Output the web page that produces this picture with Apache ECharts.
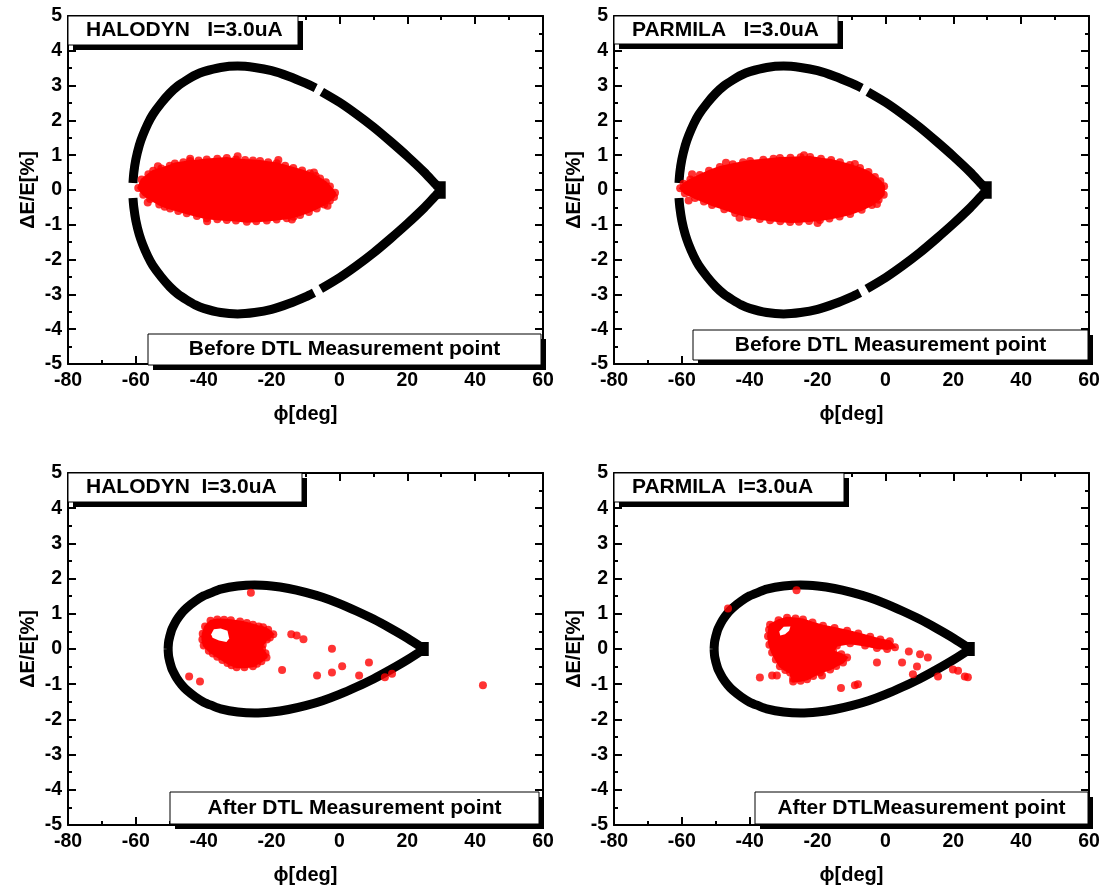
<!DOCTYPE html>
<html>
<head>
<meta charset="utf-8">
<script src="https://cdn.jsdelivr.net/npm/echarts@6/dist/echarts.min.js"></script>
<style>
  html, body { margin: 0; padding: 0; background: #fff; }
  #chart { width: 1112px; height: 891px; }
</style>
</head>
<body>
<div id="chart"></div>
<script>
// ---- axis ticks ----
const phiTicks = [-80, -60, -40, -20, 0, 20, 40, 60];
const deTicks = [-5, -4, -3, -2, -1, 0, 1, 2, 3, 4, 5];

// ---- panel texts ----
const panelTitles = ['HALODYN   I=3.0uA', 'PARMILA   I=3.0uA', 'HALODYN  I=3.0uA', 'PARMILA  I=3.0uA'];
const panelNotes = ['Before DTL Measurement point', 'Before DTL Measurement point',
                    'After DTL Measurement point', 'After DTLMeasurement point'];

// ---- separatrix before the DTL (phi [deg], dE/E [%]) ----
const beforeUpperLeft = [[-60.85,0.2],[-60.6,0.5],[-60,0.88],[-59,1.28],[-58,1.56],[-56.5,1.9],[-55,2.17],
  [-52.5,2.5],[-50,2.78],[-47.5,3.0],[-45,3.16],[-42.5,3.3],[-40,3.4],[-35,3.52],[-30,3.56],[-25,3.52],
  [-20,3.43],[-15,3.27],[-10,3.07],[-7,2.93]];
const beforeUpperRight = [[-5.2,2.82],[0,2.52],[5,2.18],[10,1.81],[15,1.4],[20,0.97],[25,0.51],[28,0.2],[30,0]];
const beforeLowerLeft = [[-60.85,-0.23],[-60.6,-0.5],[-60,-0.88],[-59,-1.28],[-58,-1.56],[-56.5,-1.9],[-55,-2.17],
  [-52.5,-2.5],[-50,-2.78],[-47.5,-3.0],[-45,-3.16],[-42.5,-3.3],[-40,-3.4],[-35,-3.52],[-30,-3.56],[-25,-3.52],
  [-20,-3.43],[-15,-3.27],[-10,-3.07],[-7.5,-2.95]];
const beforeLowerRight = [[-5.5,-2.84],[0,-2.52],[5,-2.18],[10,-1.81],[15,-1.4],[20,-0.97],[25,-0.51],[28,-0.2],[30,0]];
const beforeTip = [[30,-0.25],[30,0.25]];

// ---- separatrix after the DTL ----
const afterUpper = [[-50.5,0],[-50.3,0.23],[-49.5,0.53],[-49,0.64],[-48,0.82],[-46.5,1.02],[-45,1.17],[-42.5,1.36],
  [-40,1.51],[-37.5,1.61],[-35,1.7],[-30,1.79],[-25,1.82],[-20,1.79],[-15,1.72],[-10,1.61],[-5,1.47],[0,1.29],
  [5,1.08],[10,0.85],[15,0.59],[20,0.31],[25,0]];
const afterLower = [[-50.5,0],[-50.3,-0.23],[-49.5,-0.53],[-49,-0.64],[-48,-0.82],[-46.5,-1.02],[-45,-1.17],[-42.5,-1.36],
  [-40,-1.51],[-37.5,-1.61],[-35,-1.7],[-30,-1.79],[-25,-1.82],[-20,-1.79],[-15,-1.72],[-10,-1.61],[-5,-1.47],[0,-1.29],
  [5,-1.08],[10,-0.85],[15,-0.59],[20,-0.31],[25,0]];
const afterTip = [[25,-0.2],[25,0.2]];

// ---- beam particles: outline of the dense core, holes and isolated particles ----
const halodynBeforeCore = [[-59.3,0.06],[-58.3,0.3],[-56.3,0.45],[-54.9,0.55],[-52.5,0.62],[-50,0.7],[-48.5,0.76],
  [-46,0.8],[-44,0.83],[-41.5,0.85],[-39.1,0.88],[-36,0.9],[-33.2,0.92],[-30.5,0.88],[-27.8,0.86],[-25.5,0.85],
  [-23.4,0.83],[-21,0.8],[-18.5,0.77],[-16,0.7],[-13.6,0.63],[-11,0.56],[-8.7,0.48],[-7,0.4],[-5.7,0.33],[-4,0.22],
  [-2.8,0.1],[-1.3,-0.08],[-1.6,-0.2],[-2.8,-0.3],[-4.5,-0.42],[-6.7,-0.53],[-9,-0.63],[-11.6,-0.72],[-13.5,-0.77],
  [-15.5,-0.81],[-18.5,-0.85],[-21.4,-0.88],[-24.5,-0.9],[-27.3,-0.91],[-30.5,-0.88],[-33.2,-0.86],[-36,-0.84],
  [-39.1,-0.81],[-42,-0.75],[-45,-0.67],[-47.5,-0.6],[-49.9,-0.53],[-51.5,-0.48],[-53.1,-0.42],[-55.8,-0.26],[-57.8,-0.14]];
const halodynBeforeDots = [[-53.5,0.68],[-44,0.9],[-30,0.97],[-18,0.86],[-7.5,0.5],[-56.5,-0.36],[-39,-0.9],[-14,-0.85],[-3.5,-0.45]];
const parmilaBeforeCore = [[-60.5,0.05],[-59.5,0.18],[-57.5,0.3],[-54.7,0.43],[-52,0.55],[-48.8,0.66],[-45,0.74],
  [-42,0.8],[-39.9,0.83],[-36,0.87],[-33,0.9],[-31.1,0.92],[-28,0.93],[-25,0.94],[-22.2,0.95],[-19,0.9],[-16,0.86],
  [-13.4,0.8],[-10.5,0.72],[-7.5,0.63],[-5,0.52],[-3.1,0.37],[-1.5,0.25],[-0.4,0.11],[-0.5,-0.14],[-2,-0.28],
  [-4,-0.43],[-7,-0.57],[-10.4,-0.69],[-13.5,-0.76],[-16.5,-0.82],[-19.3,-0.86],[-22.5,-0.89],[-25.5,-0.91],
  [-28.1,-0.92],[-31,-0.9],[-34,-0.87],[-37,-0.83],[-40.5,-0.76],[-44.3,-0.66],[-47.5,-0.55],[-51.1,-0.43],
  [-53.5,-0.33],[-56.1,-0.23],[-59.1,-0.09]];
const parmilaBeforeDots = [[-57,0.45],[-47,0.78],[-24,1.0],[-9,0.75],[-58,-0.3],[-43,-0.8],[-20,-0.95],[-2.5,-0.4]];

const halodynAfterCore = [[-40.3,0.43],[-39.6,0.64],[-38,0.8],[-36,0.84],[-34,0.83],[-32,0.82],[-29.3,0.78],
  [-27.3,0.74],[-25.5,0.69],[-23.8,0.64],[-22.5,0.62],[-21,0.55],[-19.5,0.42],[-20.5,0.33],[-21.4,0.27],[-22.6,0.12],
  [-22.8,0],[-21.8,-0.12],[-21.5,-0.24],[-23,-0.35],[-24.3,-0.42],[-25.5,-0.49],[-28,-0.52],[-30.3,-0.52],
  [-31.8,-0.46],[-33,-0.4],[-34.5,-0.31],[-36,-0.22],[-37.3,-0.13],[-38.5,-0.05],[-40,0.1],[-40.4,0.27]];
const halodynAfterHole = [[-37.8,0.42],[-37,0.56],[-35,0.58],[-33,0.52],[-32.5,0.3],[-33.3,0.2],[-35.5,0.24],[-37.4,0.32]];
const halodynAfterDots = [[-26.1,1.6],[-14.2,0.42],[-12.6,0.38],[-10.6,0.28],[-2.2,0.01],[-16.9,-0.6],[-6.6,-0.75],
  [-2.2,-0.67],[0.8,-0.49],[8.7,-0.38],[5.8,-0.75],[13.4,-0.8],[15.5,-0.7],[-44.3,-0.78],[-41.1,-0.92],[42.3,-1.03]];

const parmilaAfterCore = [[-34.6,0.36],[-34.3,0.55],[-34,0.69],[-31.5,0.82],[-29,0.89],[-26.5,0.87],[-24.3,0.84],
  [-21.5,0.75],[-18.4,0.66],[-15,0.6],[-11.3,0.52],[-8,0.44],[-4.5,0.35],[-1.5,0.27],[1.3,0.22],[2.8,0.05],[0.5,0.0],
  [-2.5,0.03],[-6,0.1],[-10.4,0.16],[-14.3,0.1],[-15.4,-0.07],[-13,-0.15],[-11.3,-0.24],[-12.5,-0.38],[-14.5,-0.48],
  [-16.3,-0.58],[-19.3,-0.67],[-21.3,-0.77],[-23.1,-0.86],[-25,-0.9],[-27.2,-0.92],[-28.1,-0.67],[-29.5,-0.6],
  [-31.1,-0.49],[-32.3,-0.3],[-33.4,-0.1],[-34.2,0.12]];
const parmilaAfterHole = [[-28,0.64],[-30,0.63],[-31.3,0.5],[-31,0.38],[-29.6,0.42],[-28.4,0.52]];
const parmilaAfterDots = [[-26.2,1.67],[-46.4,1.15],[-37,-0.81],[-33.4,-0.75],[-32,-0.75],[-27.2,-0.84],[-18.7,-0.75],
  [-13.1,-1.11],[-9,-1.03],[-8.1,-1.0],[-2.5,-0.38],[4.9,-0.38],[6.9,-0.07],[10.2,-0.15],[12.5,-0.24],[9.3,-0.5],
  [8.1,-0.72],[15.5,-0.78],[19.9,-0.58],[21.4,-0.62],[23.4,-0.78],[24.3,-0.8]];

// ---- layout ----
const FONT = '"Liberation Sans", Arial, Helvetica, sans-serif';
const grids = [
  { left: 68,  top: 16,  width: 475, height: 348 },
  { left: 614, top: 16,  width: 475, height: 348 },
  { left: 68,  top: 473, width: 475, height: 352 },
  { left: 614, top: 473, width: 475, height: 352 }
];
const titleBoxes = [[68, 16, 230, 29], [614, 16, 224, 28], [68, 473, 234, 29], [614, 473, 230, 29]];
const titleTextX = [86, 632, 86, 632];
const noteBoxes = [[148, 334, 393, 31], [693, 330, 395, 30], [170, 792, 369, 32], [755, 792, 333, 32]];

const panels = [
  { sep: [beforeUpperLeft, beforeUpperRight, beforeLowerLeft, beforeLowerRight, beforeTip], core: halodynBeforeCore, hole: null, dots: halodynBeforeDots },
  { sep: [beforeUpperLeft, beforeUpperRight, beforeLowerLeft, beforeLowerRight, beforeTip], core: parmilaBeforeCore, hole: null, dots: parmilaBeforeDots },
  { sep: [afterUpper, afterLower, afterTip], core: halodynAfterCore, hole: halodynAfterHole, dots: halodynAfterDots },
  { sep: [afterUpper, afterLower, afterTip], core: parmilaAfterCore, hole: parmilaAfterHole, dots: parmilaAfterDots }
];

const black = '#000';
const red = '#ff0000';
const labelStyle = { color: black, fontSize: 19.5, fontWeight: 'bold', fontFamily: FONT };

const xAxis = [], yAxis = [], series = [], graphic = [];

grids.forEach((g, i) => {
  const xCommon = {
    gridIndex: i, type: 'value',
    min: phiTicks[0], max: phiTicks[phiTicks.length - 1], interval: phiTicks[1] - phiTicks[0],
    splitLine: { show: false },
    axisLine: { show: true, onZero: false, lineStyle: { color: black, width: 2 } },
    axisTick: { show: true, inside: true, length: 8, lineStyle: { color: black, width: 2 } },
    minorTick: { show: true, splitNumber: 2, length: 4, lineStyle: { color: black, width: 2 } },
    minorSplitLine: { show: false }
  };
  const yCommon = {
    gridIndex: i, type: 'value',
    min: deTicks[0], max: deTicks[deTicks.length - 1], interval: deTicks[1] - deTicks[0],
    splitLine: { show: false },
    axisLine: { show: true, onZero: false, lineStyle: { color: black, width: 2 } },
    axisTick: { show: true, inside: true, length: 8, lineStyle: { color: black, width: 2 } },
    minorTick: { show: true, splitNumber: 2, length: 4, lineStyle: { color: black, width: 2 } },
    minorSplitLine: { show: false }
  };
  xAxis.push(Object.assign({}, xCommon, {
    position: 'bottom',
    axisLabel: Object.assign({ margin: 7 }, labelStyle),
    name: 'ϕ[deg]', nameLocation: 'middle', nameGap: 40,
    nameTextStyle: { color: black, fontSize: 20, fontWeight: 'bold', fontFamily: FONT }
  }));
  xAxis.push(Object.assign({}, xCommon, { position: 'top', axisLabel: { show: false } }));
  yAxis.push(Object.assign({}, yCommon, {
    position: 'left',
    axisLabel: Object.assign({ margin: 6 }, labelStyle),
    name: 'ΔE/E[%]', nameLocation: 'middle', nameGap: 30, nameRotate: 90,
    nameTextStyle: { color: black, fontSize: 20, fontWeight: 'bold', fontFamily: FONT }
  }));
  yAxis.push(Object.assign({}, yCommon, { position: 'right', axisLabel: { show: false } }));

  const p = panels[i];
  const ax = { xAxisIndex: 2 * i, yAxisIndex: 2 * i };

  // separatrix arcs
  p.sep.forEach(arc => {
    series.push(Object.assign({
      type: 'line', data: arc, symbol: 'none', smooth: 0.25, silent: true, z: 2,
      lineStyle: { color: black, width: 9, cap: 'butt', join: 'round' }
    }, ax));
  });

  // dense particle core drawn as a filled region
  const core = p.core, hole = p.hole;
  series.push(Object.assign({
    type: 'custom', data: core, silent: true, z: 3,
    renderItem: (params, api) => {
      if (params.dataIndex !== 0) return null;
      const children = [{
        type: 'polygon', shape: { points: core.map(pt => api.coord(pt)) },
        style: { fill: red, stroke: red, lineWidth: 2 }
      }];
      if (hole) {
        children.push({
          type: 'polygon', shape: { points: hole.map(pt => api.coord(pt)) },
          style: { fill: '#fff' }
        });
      }
      return { type: 'group', children };
    }
  }, ax));

  // particles on the core boundary and isolated particles
  series.push(Object.assign({
    type: 'scatter', data: core.concat(p.dots), symbol: 'circle', symbolSize: 8, silent: true, z: 4,
    itemStyle: { color: red }
  }, ax));

  // label boxes with drop shadow
  const addBox = (box, text, x, align) => {
    const [bx, by, bw, bh] = box;
    graphic.push({ type: 'rect', z: 100, silent: true, shape: { x: bx + 5, y: by + 5, width: bw, height: bh }, style: { fill: black } });
    graphic.push({ type: 'rect', z: 101, silent: true, shape: { x: bx, y: by, width: bw, height: bh }, style: { fill: '#fff', stroke: black, lineWidth: 1 } });
    graphic.push({
      type: 'text', z: 102, silent: true, x: x, y: by + bh / 2,
      style: { text: text, fill: black, font: 'bold 21px ' + FONT, align: align, verticalAlign: 'middle' }
    });
  };
  addBox(titleBoxes[i], panelTitles[i], titleTextX[i], 'left');
  const nb = noteBoxes[i];
  addBox(nb, panelNotes[i], nb[0] + nb[2] / 2, 'center');
});

const chart = echarts.init(document.getElementById('chart'), null, { renderer: 'canvas' });
chart.setOption({
  animation: false,
  backgroundColor: '#fff',
  grid: grids.map(g => Object.assign({ containLabel: false }, g)),
  xAxis, yAxis, series, graphic
});
</script>
</body>
</html>
